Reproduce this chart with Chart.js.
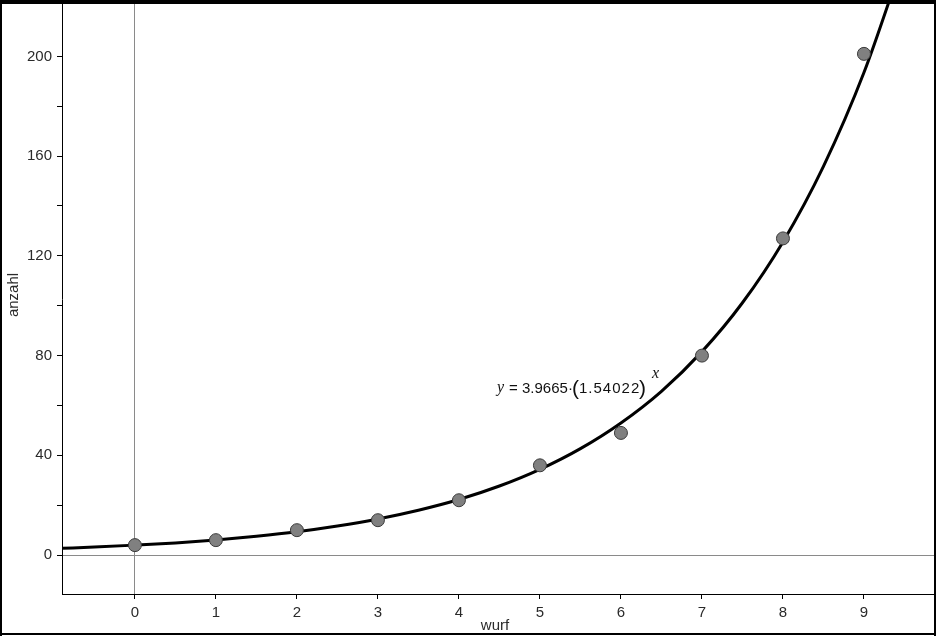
<!DOCTYPE html>
<html>
<head>
<meta charset="utf-8">
<script src="https://cdn.jsdelivr.net/npm/chart.js@4.4.1/dist/chart.umd.min.js"></script>
<style>
  html, body { margin: 0; padding: 0; background: #ffffff; }
  #wrap { width: 938px; height: 636px; position: relative; }
</style>
</head>
<body>
<div id="wrap"><canvas id="c" width="938" height="636"></canvas></div>
<script>
// ---- data ----
const wurf = [0, 1, 2, 3, 4, 5, 6, 7, 8, 9];
const anzahl = [4, 6, 10, 14, 22, 36, 49, 80, 127, 201];
// regression curve samples
const curveX = [-0.9, -0.5, 0, 0.5, 1, 1.5, 2, 2.5, 3, 3.5, 4, 4.5, 5, 5.5, 6, 6.5, 7, 7.5, 8, 8.5, 9, 9.5];
const curveY = [2.7, 3.2, 4.0, 4.9, 6.1, 7.6, 9.4, 11.7, 14.5, 18.0, 22.3, 27.7, 34.4, 42.7, 53.0, 65.7, 81.6, 101.2, 125.6, 155.9, 193.5, 240.2];
const xTicks = [0, 1, 2, 3, 4, 5, 6, 7, 8, 9];
const yTicks = [0, 20, 40, 60, 80, 100, 120, 140, 160, 180, 200];
const yLabelled = [0, 40, 80, 120, 160, 200];
const xTitle = 'wurf';
const yTitle = 'anzahl';
const eqA = '3.9665';
const eqB = '1.54022';

const pts = wurf.map((x, i) => ({ x: x, y: anzahl[i] }));
const curve = curveX.map((x, i) => ({ x: x, y: curveY[i] }));

const labelFont = { family: 'Liberation Sans, Arial, sans-serif', size: 15 };
const textColor = '#2a2a2a';

const decor = {
  id: 'decor',
  afterDatasetsDraw(chart) {
    const ctx = chart.ctx;
    ctx.save();
    // regression equation
    ctx.fillStyle = '#111';
    ctx.textBaseline = 'alphabetic';
    ctx.textAlign = 'left';
    const base = 393;
    ctx.font = 'italic 16px "Liberation Serif", "DejaVu Serif", serif';
    ctx.fillText('y', 497, base - 1);
    ctx.font = '15px "Liberation Sans", Arial, sans-serif';
    ctx.fillText('=', 509, base);
    ctx.fillText(eqA + '\u00B7', 522, base);
    ctx.font = '21px "Liberation Sans", Arial, sans-serif';
    ctx.fillText('(', 572, base + 2);
    ctx.font = '15px "Liberation Sans", Arial, sans-serif';
    ctx.letterSpacing = '1px';
    ctx.fillText(eqB, 579, base);
    ctx.letterSpacing = '0px';
    ctx.font = '21px "Liberation Sans", Arial, sans-serif';
    ctx.fillText(')', 639, base + 2);
    ctx.font = 'italic 16px "Liberation Serif", "DejaVu Serif", serif';
    ctx.fillText('x', 652, 378);
    ctx.restore();
  },
  afterDraw(chart) {
    const ctx = chart.ctx;
    ctx.save();
    // axis titles
    ctx.fillStyle = textColor;
    ctx.font = '15px "Liberation Sans", Arial, sans-serif';
    ctx.textAlign = 'center';
    ctx.textBaseline = 'middle';
    ctx.fillText(xTitle, 495, 626);
    ctx.translate(14, 295);
    ctx.rotate(-Math.PI / 2);
    ctx.fillText(yTitle, 0, 0);
    ctx.restore();
    // frame
    ctx.save();
    ctx.fillStyle = '#000';
    ctx.fillRect(0, 0, 936, 4);
    ctx.fillRect(0, 0, 2, 636);
    ctx.fillRect(934, 0, 2, 636);
    ctx.fillRect(0, 633, 936, 2);
    ctx.restore();
  }
};

new Chart(document.getElementById('c'), {
  type: 'scatter',
  data: {
    datasets: [
      {
        label: 'anzahl',
        data: pts,
        order: 0,
        pointRadius: 6.5,
        pointHoverRadius: 6.5,
        pointBackgroundColor: '#808080',
        pointBorderColor: '#3a3a3a',
        pointBorderWidth: 1,
        showLine: false
      },
      {
        label: 'fit',
        data: curve,
        order: 1,
        showLine: true,
        borderColor: '#000000',
        borderWidth: 3,
        pointRadius: 0,
        cubicInterpolationMode: 'monotone',
        fill: false
      }
    ]
  },
  options: {
    responsive: false,
    animation: false,
    devicePixelRatio: 1,
    layout: { autoPadding: false, padding: { top: 4, right: 3, left: 0, bottom: 0 } },
    plugins: { legend: { display: false }, tooltip: { enabled: false }, title: { display: false } },
    scales: {
      x: {
        type: 'linear',
        min: -0.9,
        max: 9.877,
        afterFit(s) { s.height = 42; s.paddingLeft = 0; s.paddingRight = 0; s.paddingTop = 0; s.paddingBottom = 0; },
        afterBuildTicks(s) { s.ticks = xTicks.map(v => ({ value: v })); },
        border: { display: true, color: '#000', width: 1 },
        grid: {
          display: true,
          drawOnChartArea: true,
          drawTicks: true,
          tickLength: 5,
          tickColor: '#000',
          lineWidth: 1,
          color: (c) => (c.tick && c.tick.value === 0 ? '#8a8a8a' : 'rgba(0,0,0,0)')
        },
        ticks: {
          color: textColor,
          font: labelFont,
          padding: 5,
          maxRotation: 0,
          autoSkip: false,
          callback: (v) => String(v)
        }
      },
      y: {
        type: 'linear',
        min: -15.6,
        max: 221,
        afterFit(s) { s.width = 62; s.paddingLeft = 0; s.paddingRight = 0; s.paddingTop = 0; s.paddingBottom = 0; },
        afterBuildTicks(s) { s.ticks = yTicks.map(v => ({ value: v })); },
        border: { display: true, color: '#000', width: 1 },
        grid: {
          display: true,
          drawOnChartArea: true,
          drawTicks: true,
          tickLength: 5,
          tickColor: '#000',
          lineWidth: 1,
          color: (c) => (c.tick && c.tick.value === 0 ? '#8a8a8a' : 'rgba(0,0,0,0)')
        },
        ticks: {
          color: textColor,
          font: labelFont,
          padding: 5,
          autoSkip: false,
          callback: (v) => (yLabelled.includes(v) ? String(v) : '')
        }
      }
    }
  },
  plugins: [decor]
});
</script>
</body>
</html>
